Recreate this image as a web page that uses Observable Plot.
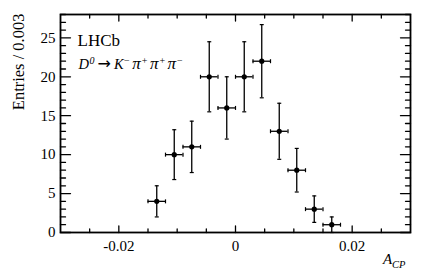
<!DOCTYPE html>
<html><head><meta charset="utf-8">
<script src="https://cdn.jsdelivr.net/npm/d3@7"></script>
<script src="https://cdn.jsdelivr.net/npm/@observablehq/plot@0.6"></script>
<style>
html,body{margin:0;padding:0;background:#fff}
svg{display:block}
</style>
</head><body><div id="chart"></div>
<script>
// Data (A_CP bins of width 0.003)
const binCenters = [-0.0135, -0.0105, -0.0075, -0.0045, -0.0015, 0.0015, 0.0045, 0.0075, 0.0105, 0.0135, 0.0165];
const entries    = [4, 10, 11, 20, 16, 20, 22, 13, 8, 3, 1];
const errors     = [2, 3.2, 3.3, 4.5, 4, 4.5, 4.7, 3.6, 2.8, 1.7, 1];
const halfBin = 0.0015;

// Tick values
const xMajorTicks = [-0.02, 0, 0.02];
const xMinorTicks = [-0.025, -0.015, -0.01, -0.005, 0.005, 0.01, 0.015, 0.025];
const yMajorTicks = [0, 5, 10, 15, 20, 25];
const yMinorTicks = d3.range(0, 29).filter(v => v % 5 !== 0);

const yLabel = "Entries / 0.003";
const expLabel = "LHCb";
const decayLabel = "D0 -> K-pi+pi+pi-";
const xLabel = "ACP";

const rows = binCenters.map((x, i) => ({x, y: entries[i], err: errors[i]}));

const FONT = "'Liberation Serif', 'Times New Roman', 'DejaVu Serif', serif";

const tickShape = {draw(ctx, l) { ctx.moveTo(0, 0); ctx.lineTo(0, -l); }};
const hCap = {draw(ctx, size) { const r = Math.sqrt(size / Math.PI); ctx.moveTo(-r, 0); ctx.lineTo(r, 0); }};
const vCap = {draw(ctx, size) { const r = Math.sqrt(size / Math.PI); ctx.moveTo(0, -r); ctx.lineTo(0, r); }};

function ticks(data, side, len, sw) {
  const rot = {bottom: 0, top: 180, left: 90, right: -90}[side];
  const horiz = side === "bottom" || side === "top";
  return Plot.vector(data, {
    ...(horiz ? {x: d => d} : {y: d => d}),
    frameAnchor: side, rotate: rot, length: len, anchor: "start",
    shape: tickShape, stroke: "black", strokeWidth: sw
  });
}

const plot = Plot.plot({
  width: 432, height: 277,
  marginLeft: 60, marginRight: 22, marginTop: 14, marginBottom: 45,
  style: {fontFamily: FONT, fontSize: "15px", background: "white", color: "black"},
  x: {domain: [-0.03, 0.03]},
  y: {domain: [0, 28]},
  marks: [
    // axis labels (no tick lines)
    Plot.axisX(xMajorTicks, {anchor: "bottom", tickSize: 0, tickPadding: 8, label: null,
      tickFormat: d => d === 0 ? "0" : String(d), fontSize: 15, fontFamily: FONT}),
    Plot.axisY(yMajorTicks, {anchor: "left", tickSize: 0, tickPadding: 5, label: null,
      tickFormat: d => String(d), fontSize: 15, fontFamily: FONT}),
    // inward ticks on all four sides
    ticks(xMajorTicks, "bottom", 6.5, 1.3),
    ticks(xMinorTicks, "bottom", 3.5, 1.3),
    ticks(xMajorTicks, "top", 6.5, 1.3),
    ticks(xMinorTicks, "top", 3.5, 1.3),
    ticks(yMajorTicks, "left", 10, 1.3),
    ticks(yMinorTicks, "left", 5, 1.3),
    ticks(yMajorTicks, "right", 10, 1.3),
    ticks(yMinorTicks, "right", 5, 1.3),
    Plot.frame({stroke: "black", strokeWidth: 1.8}),
    // error bars
    Plot.ruleX(rows, {x: "x", y1: d => Math.max(0, d.y - d.err), y2: d => d.y + d.err, stroke: "black", strokeWidth: 1.3}),
    Plot.ruleY(rows, {y: "y", x1: d => d.x - halfBin, x2: d => d.x + halfBin, stroke: "black", strokeWidth: 1.3}),
    Plot.dot(rows, {x: "x", y: d => d.y + d.err, symbol: hCap, r: 2, stroke: "black", strokeWidth: 1.2}),
    Plot.dot(rows, {x: "x", y: d => Math.max(0, d.y - d.err), symbol: hCap, r: 2, stroke: "black", strokeWidth: 1.2}),
    Plot.dot(rows, {x: d => d.x - halfBin, y: "y", symbol: vCap, r: 2, stroke: "black", strokeWidth: 1.2}),
    Plot.dot(rows, {x: d => d.x + halfBin, y: "y", symbol: vCap, r: 2, stroke: "black", strokeWidth: 1.2}),
    Plot.dot(rows, {x: "x", y: "y", r: 2.6, fill: "black", stroke: null}),
    // texts
    Plot.text([yLabel], {text: d => d, frameAnchor: "top-left", rotate: -90, textAnchor: "end",
      lineAnchor: "middle", dx: -41.5, dy: -1, fontSize: 16.5, fontFamily: FONT, fill: "black"}),
    Plot.text([expLabel], {text: d => d, frameAnchor: "top-left", textAnchor: "start",
      lineAnchor: "middle", dx: 17, dy: 26.5, fontSize: 17, fontFamily: FONT, fill: "black"}),
    Plot.text([decayLabel], {text: d => d, frameAnchor: "top-left", textAnchor: "start",
      lineAnchor: "middle", dx: 18, dy: 50.3, fontSize: 14.5, fontFamily: FONT, fill: "black"}),
    Plot.text([xLabel], {text: d => d, frameAnchor: "bottom-right", textAnchor: "end",
      lineAnchor: "middle", dx: -5, dy: 27, fontSize: 15, fontFamily: FONT, fill: "black"})
  ]
});

document.getElementById("chart").appendChild(plot);

// Rich text (italics, super/subscripts) built as tspans
function rich(match, parts) {
  const t = Array.from(plot.querySelectorAll("text")).find(e => e.textContent === match);
  if (!t) return;
  while (t.firstChild) t.removeChild(t.firstChild);
  let cur = 0;
  for (const p of parts) {
    const ts = document.createElementNS("http://www.w3.org/2000/svg", "tspan");
    ts.textContent = p.s;
    if (p.it) ts.setAttribute("font-style", "italic");
    if (p.size) ts.setAttribute("font-size", p.size);
    if (p.font) ts.setAttribute("font-family", p.font);
    const shift = p.shift || 0;
    if (shift !== cur) { ts.setAttribute("dy", shift - cur); cur = shift; }
    if (p.dx) ts.setAttribute("dx", p.dx);
    t.appendChild(ts);
  }
}
rich(decayLabel, [
  {s: "D", it: true},
  {s: "0", it: true, size: 10, shift: -5.5, dx: 0.5},
  {s: "\u2192", size: 16, font: "DejaVu Sans", shift: 0, dx: 3},
  {s: "K", it: true, dx: 3},
  {s: "\u2212", size: 10, shift: -5, dx: 0.5},
  {s: "\u03c0", it: true, size: 17, shift: 0, dx: 2.5},
  {s: "+", size: 10, shift: -5, dx: 1},
  {s: "\u03c0", it: true, size: 17, shift: 0, dx: 2.5},
  {s: "+", size: 10, shift: -5, dx: 1},
  {s: "\u03c0", it: true, size: 17, shift: 0, dx: 2.5},
  {s: "\u2212", size: 10, shift: -5, dx: 1}
]);
rich(xLabel, [
  {s: "A", it: true},
  {s: "CP", it: true, size: 10.5, shift: 4}
]);
</script>
</body></html>
